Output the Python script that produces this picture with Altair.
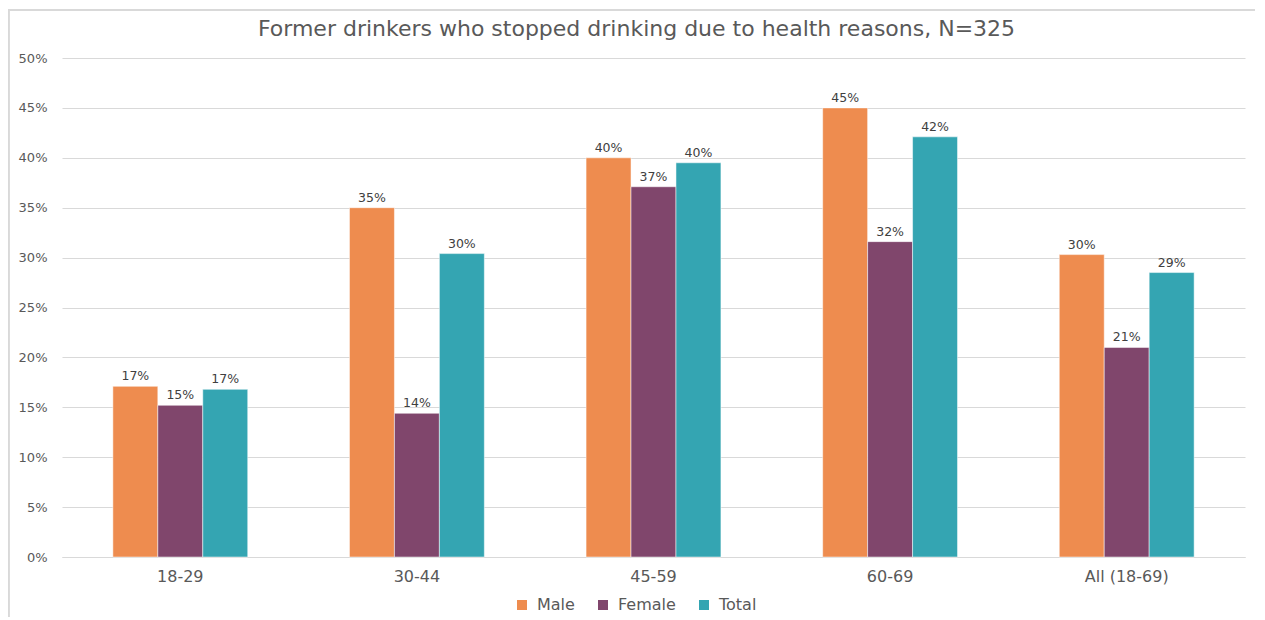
import altair as alt
import pandas as pd

groups = ["18-29", "30-44", "45-59", "60-69", "All (18-69)"]
series = ["Male", "Female", "Total"]
male = [17.1, 35.0, 40.0, 45.0, 30.3]
female = [15.2, 14.4, 37.1, 31.6, 21.0]
total = [16.8, 30.4, 39.5, 42.1, 28.5]
colors = ["#EE8C4F", "#80466C", "#34A5B2"]
y_ticks = [0, 5, 10, 15, 20, 25, 30, 35, 40, 45, 50]

rows = []
for s, vals in zip(series, [male, female, total]):
    for g, v in zip(groups, vals):
        rows.append({"group": g, "series": s, "value": v})
df = pd.DataFrame(rows)

W, H = 1183, 499
FONT = "DejaVu Sans"

x = alt.X("group:N", sort=groups, title=None,
          scale=alt.Scale(paddingInner=0.43, paddingOuter=0.215),
          axis=alt.Axis(labelAngle=0, labelFontSize=16, labelColor="#595959",
                        labelFont=FONT, ticks=False, domainColor="#d9d9d9",
                        labelPadding=11, grid=False))
xoff = alt.XOffset("series:N", sort=series, scale=alt.Scale(paddingInner=0, paddingOuter=0))
y = alt.Y("value:Q", title=None,
          scale=alt.Scale(domain=[0, 50], nice=False),
          axis=alt.Axis(values=y_ticks, labelExpr="datum.value + '%'",
                        labelFontSize=13, labelColor="#595959", labelFont=FONT,
                        ticks=False, domain=False, gridColor="#d9d9d9",
                        labelPadding=15))

bars = alt.Chart(df).mark_bar(stroke="white", strokeWidth=0.5).encode(
    x=x, xOffset=xoff, y=y,
    color=alt.Color("series:N", sort=series,
                    scale=alt.Scale(domain=series, range=colors),
                    legend=alt.Legend(title=None, orient="none", direction="horizontal",
                                      legendX=452, legendY=539,
                                      symbolType="square", symbolSize=100,
                                      symbolStrokeWidth=0,
                                      labelFontSize=16, labelColor="#595959",
                                      labelFont=FONT, columnPadding=20,
                                      labelOffset=7)),
)

labels = alt.Chart(df).transform_calculate(
    label="format(datum.value, '.0f') + '%'"
).mark_text(dy=-10, fontSize=12.5, color="#404040", font=FONT).encode(
    x=x, xOffset=xoff, y="value:Q", text="label:N"
)

border = alt.Chart(df).mark_rect(fill=None, stroke="#d9d9d9", strokeWidth=1.5).encode(
    x=alt.value(-53.5), x2=alt.value(W + 100),
    y=alt.value(-48), y2=alt.value(H + 80),
)

chart = alt.layer(border, bars, labels).properties(
    width=W, height=H,
    autosize=alt.AutoSizeParams(type="none"),
    padding={"left": 54, "top": 50, "right": 10, "bottom": 60},
    title=alt.TitleParams(
        "Former drinkers who stopped drinking due to health reasons, N=325",
        fontSize=22, font=FONT, fontWeight="normal", color="#595959",
        anchor="middle", frame="group", dx=-17, offset=0, dy=32),
).configure_view(stroke=None)

chart.save("out.html", embed_options={"renderer": "svg", "actions": False})
